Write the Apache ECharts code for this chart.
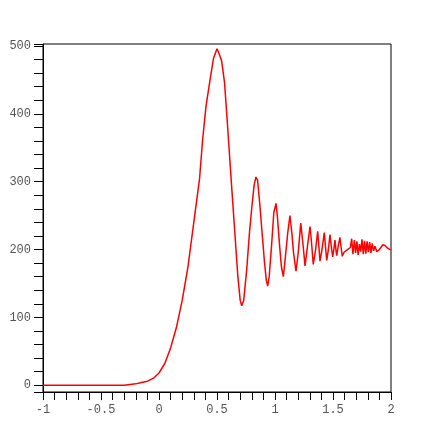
<!DOCTYPE html>
<html>
<head>
<meta charset="utf-8">
<script src="https://cdn.jsdelivr.net/npm/echarts@6/dist/echarts.min.js"></script>
<style>
html,body{margin:0;padding:0;background:#fff;}
#chart{width:436px;height:436px;}
</style>
</head>
<body>
<div id="chart"></div>
<script>
const xValues = [-1, -0.3, -0.25, -0.2, -0.15, -0.1, -0.05, 0, 0.05, 0.1, 0.15, 0.2, 0.25, 0.3, 0.35, 0.375, 0.405, 0.44, 0.47, 0.5, 0.52, 0.54, 0.565, 0.59, 0.625, 0.65, 0.68, 0.7, 0.713, 0.73, 0.756, 0.78, 0.8, 0.82, 0.836, 0.85, 0.87, 0.89, 0.91, 0.925, 0.937, 0.95, 0.97, 0.99, 0.995, 1.009, 1.02, 1.04, 1.055, 1.072, 1.09, 1.11, 1.129, 1.145, 1.16, 1.181, 1.2, 1.222, 1.24, 1.259, 1.28, 1.302, 1.315, 1.33, 1.35, 1.368, 1.378, 1.388, 1.405, 1.425, 1.435, 1.446, 1.46, 1.474, 1.485, 1.497, 1.507, 1.517, 1.525, 1.532, 1.545, 1.56, 1.57, 1.58, 1.595, 1.61, 1.625, 1.64, 1.65, 1.661, 1.672, 1.684, 1.695, 1.706, 1.717, 1.728, 1.739, 1.75, 1.761, 1.772, 1.783, 1.794, 1.805, 1.816, 1.827, 1.838, 1.85, 1.862, 1.877, 1.9, 1.93, 1.948, 1.97, 2.0];
const yValues = [0, 0, 1, 2, 4, 6, 10, 18, 32, 55, 85, 125, 175, 240, 305, 360, 411, 450, 482, 496, 488, 478, 446, 385, 296, 234, 160, 125, 117, 125, 170, 225, 262, 295, 307, 302, 265, 222, 180, 155, 146, 160, 205, 255, 254, 268, 250, 205, 175, 160, 190, 225, 250, 225, 195, 168, 195, 239, 210, 176, 205, 234, 210, 178, 200, 227, 205, 183, 200, 225, 205, 184, 200, 222, 205, 189, 200, 214, 200, 191, 205, 218, 203, 190, 196, 194, 200, 199, 203, 216, 193, 214, 195, 212, 192, 208, 197, 215, 193, 213, 194, 212, 196, 211, 195, 209, 198, 205, 197, 200, 207, 206, 202, 199];
const xTickLabels = ['-1', '-0.5', '0', '0.5', '1', '1.5', '2'];
const yTickLabels = ['0', '100', '200', '300', '400', '500'];

const points = xValues.map((x, i) => [x, yValues[i]]);
const labelFont = { fontFamily: '"Liberation Mono", "DejaVu Sans Mono", monospace', fontSize: 12, color: '#555' };

const chart = echarts.init(document.getElementById('chart'), null, { renderer: 'canvas' });
chart.setOption({
  animation: false,
  backgroundColor: '#fff',
  grid: { left: 43, right: 45, top: 44, bottom: 44, show: true, borderColor: '#000', borderWidth: 1, backgroundColor: 'transparent' },
  xAxis: {
    type: 'value', min: -1, max: 2, interval: 0.5,
    axisLine: { show: true, onZero: false, lineStyle: { color: '#000', width: 1 } },
    axisTick: { show: true, inside: false, length: 8, lineStyle: { color: '#000' } },
    minorTick: { show: true, splitNumber: 5, length: 8, lineStyle: { color: '#000' } },
    splitLine: { show: false },
    axisLabel: Object.assign({ margin: 12, formatter: v => xTickLabels.includes(String(v)) ? String(v) : '' }, labelFont)
  },
  yAxis: {
    type: 'value', min: -10, max: 503, splitNumber: 5,
    axisLine: { show: true, onZero: false, lineStyle: { color: '#000', width: 1 } },
    axisTick: { show: true, inside: false, length: 9, lineStyle: { color: '#000' } },
    minorTick: { show: true, splitNumber: 5, length: 9, lineStyle: { color: '#000' } },
    splitLine: { show: false },
    axisLabel: Object.assign({ margin: 12, showMinLabel: false, showMaxLabel: false, formatter: v => yTickLabels.includes(String(v)) ? String(v) : '' }, labelFont)
  },
  series: [{
    type: 'line', data: points, showSymbol: false, symbol: 'none',
    lineStyle: { color: '#ff0000', width: 1.5 }, clip: true
  }]
});
</script>
</body>
</html>
